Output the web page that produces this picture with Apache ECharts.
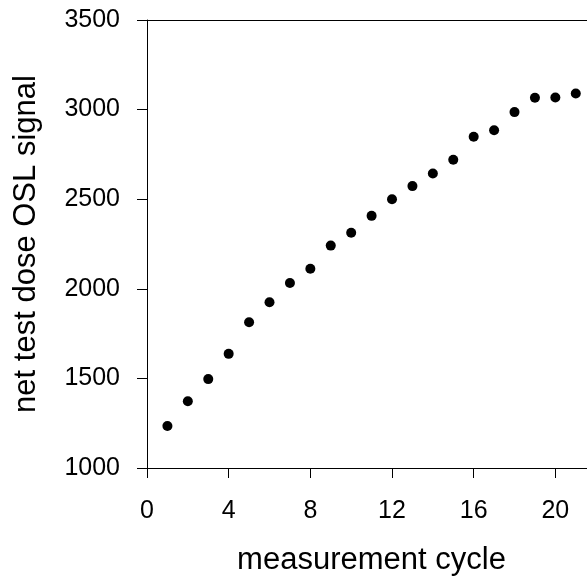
<!DOCTYPE html>
<html>
<head>
<meta charset="utf-8">
<script src="https://cdn.jsdelivr.net/npm/echarts@6/dist/echarts.min.js"></script>
<style>
  html, body { margin: 0; padding: 0; background: #fff; }
  #chart { width: 587px; height: 576px; }
</style>
</head>
<body>
<div id="chart"></div>
<script>
// measurement cycles 1..21
const cycles = [1, 2, 3, 4, 5, 6, 7, 8, 9, 10, 11, 12, 13, 14, 15, 16, 17, 18, 19, 20, 21]
// net test dose OSL signal
const signal = [1234, 1372, 1496, 1637, 1813, 1925, 2032, 2112, 2241, 2313, 2407,
  2500, 2573, 2643, 2720, 2848, 2885, 2986, 3066, 3068, 3090]

const font = 'Liberation Sans, Arial, sans-serif'

const chart = echarts.init(document.getElementById('chart'), null, { renderer: 'canvas' })

chart.setOption({
  animation: false,
  backgroundColor: '#fff',
  // the plot is cut off at the right edge of the picture
  grid: { left: 147, top: 20, bottom: 108, right: 0, containLabel: false, outerBoundsMode: 'none' },
  xAxis: [
    {
      type: 'value',
      min: 0,
      max: 21.55,
      interval: 4,
      name: 'measurement cycle',
      nameLocation: 'middle',
      nameGap: 77,
      nameTextStyle: { fontFamily: font, fontSize: 31, color: '#000', padding: [0, 0, 0, 9] },
      axisLine: { show: true, onZero: false, lineStyle: { color: '#000', width: 1 } },
      axisTick: { show: true, inside: false, length: 10, lineStyle: { color: '#000', width: 1 } },
      axisLabel: { fontFamily: font, fontSize: 25, color: '#000', margin: 31, showMaxLabel: false },
      splitLine: { show: false }
    },
    {
      type: 'value',
      position: 'top',
      min: 0,
      max: 21.55,
      axisLine: { show: true, onZero: false, lineStyle: { color: '#000', width: 1 } },
      axisTick: { show: false },
      axisLabel: { show: false },
      splitLine: { show: false }
    }
  ],
  yAxis: {
    type: 'value',
    min: 1000,
    max: 3500,
    interval: 500,
    name: 'net test dose OSL signal',
    nameLocation: 'middle',
    nameGap: 105,
    nameTextStyle: { fontFamily: font, fontSize: 31, color: '#000' },
    axisLine: { show: true, onZero: false, lineStyle: { color: '#000', width: 1 } },
    axisTick: { show: true, inside: false, length: 10, lineStyle: { color: '#000', width: 1 } },
    axisLabel: { fontFamily: font, fontSize: 25, color: '#000', margin: 27, formatter: v => String(v) },
    splitLine: { show: false }
  },
  series: [
    {
      type: 'scatter',
      xAxisIndex: 0,
      data: cycles.map((c, i) => [c, signal[i]]),
      symbol: 'circle',
      symbolSize: 10,
      itemStyle: { color: '#000', opacity: 1 }
    }
  ]
})
</script>
</body>
</html>
